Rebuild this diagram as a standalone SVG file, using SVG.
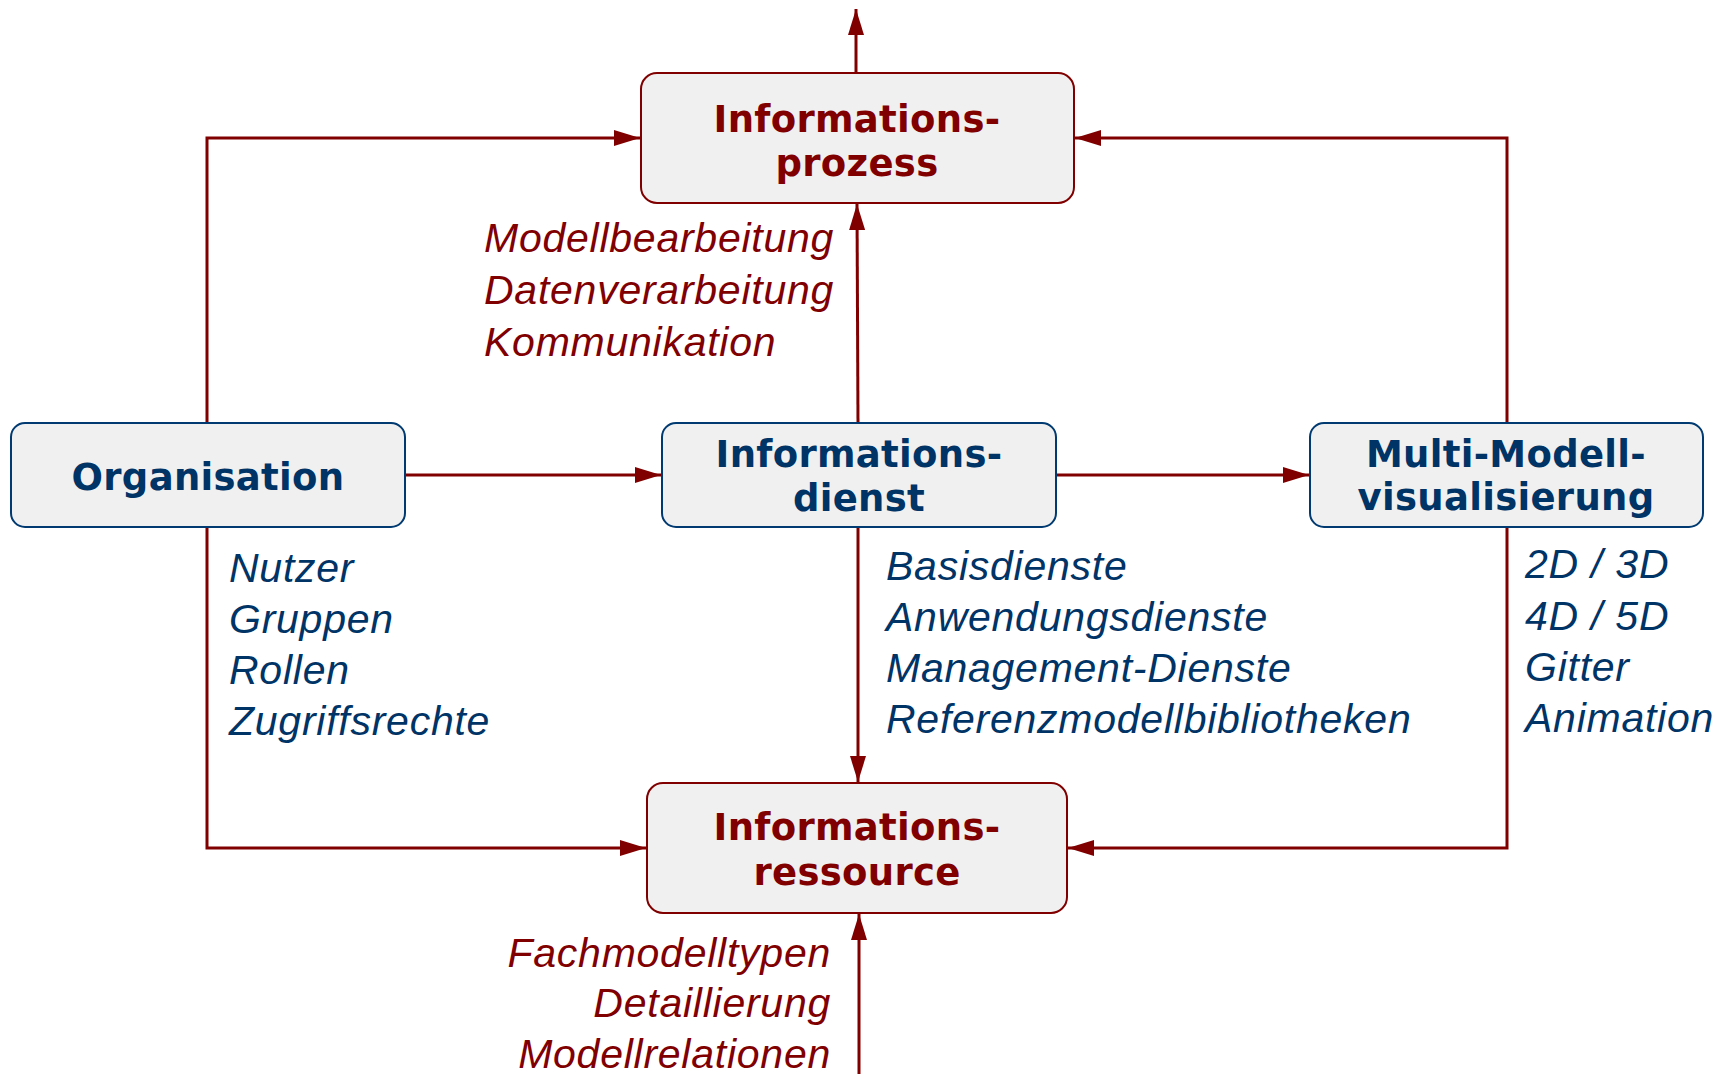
<svg xmlns="http://www.w3.org/2000/svg" width="1731" height="1074" viewBox="0 0 1731 1074">
<style>
.box{fill:#f0f0f0;stroke-width:2}
.red{stroke:#800000}
.blue{stroke:#003a70}
.bt{font-family:"DejaVu Sans",Verdana,sans-serif;font-weight:bold;font-size:37px;text-anchor:middle;letter-spacing:0.3px}
.it{font-family:"Liberation Sans",Arial,sans-serif;font-style:italic;font-size:41px;letter-spacing:0.75px}
.tr{fill:#800000}
.tb{fill:#003366}
.c{fill:none;stroke:#800000;stroke-width:3;marker-end:url(#ah)}
</style>
<defs>
<marker id="ah" markerUnits="userSpaceOnUse" markerWidth="27" markerHeight="16" refX="26" refY="8" orient="auto">
<path d="M0,0 L26,8 L0,16 z" fill="#800000"/>
</marker>
</defs>
<g id="connectors">
<path class="c" d="M856,73 L856,9"/>
<path class="c" d="M207,423 L207,138 L640,138"/>
<path class="c" d="M1507,423 L1507,138 L1075,138"/>
<path class="c" d="M858,423 L857,204"/>
<path class="c" d="M405,475 L661,475"/>
<path class="c" d="M1056,475 L1309,475"/>
<path class="c" d="M858,527 L858,782"/>
<path class="c" d="M207,527 L207,848 L646,848"/>
<path class="c" d="M1507,527 L1507,848 L1068,848"/>
<path class="c" d="M859,1074 L859,914"/>
</g>
<g id="prozess">
<rect class="box red" x="641" y="73" width="433" height="130" rx="16"/>
<text class="bt tr" x="857" y="132">Informations-</text>
<text class="bt tr" x="857" y="176">prozess</text>
</g>
<g id="organisation">
<rect class="box blue" x="11" y="423" width="394" height="104" rx="14"/>
<text class="bt tb" x="208" y="490">Organisation</text>
</g>
<g id="dienst">
<rect class="box blue" x="662" y="423" width="394" height="104" rx="14"/>
<text class="bt tb" x="859" y="467">Informations-</text>
<text class="bt tb" x="859" y="511">dienst</text>
</g>
<g id="visualisierung">
<rect class="box blue" x="1310" y="423" width="393" height="104" rx="14"/>
<text class="bt tb" x="1506" y="467">Multi-Modell-</text>
<text class="bt tb" x="1506" y="510">visualisierung</text>
</g>
<g id="ressource">
<rect class="box red" x="647" y="783" width="420" height="130" rx="16"/>
<text class="bt tr" x="857" y="840">Informations-</text>
<text class="bt tr" x="857" y="885">ressource</text>
</g>
<g id="labels">
<text class="it tr" x="484" y="252">Modellbearbeitung</text>
<text class="it tr" x="484" y="304">Datenverarbeitung</text>
<text class="it tr" x="484" y="356">Kommunikation</text>
<text class="it tb" x="229" y="582">Nutzer</text>
<text class="it tb" x="229" y="633">Gruppen</text>
<text class="it tb" x="229" y="684">Rollen</text>
<text class="it tb" x="229" y="735">Zugriffsrechte</text>
<text class="it tb" x="886" y="580">Basisdienste</text>
<text class="it tb" x="886" y="631">Anwendungsdienste</text>
<text class="it tb" x="886" y="682">Management-Dienste</text>
<text class="it tb" x="886" y="733">Referenzmodellbibliotheken</text>
<text class="it tb" x="1525" y="578">2D / 3D</text>
<text class="it tb" x="1525" y="630">4D / 5D</text>
<text class="it tb" x="1525" y="681">Gitter</text>
<text class="it tb" x="1525" y="732">Animation</text>
<text class="it tr" x="831" y="967" text-anchor="end">Fachmodelltypen</text>
<text class="it tr" x="831" y="1017" text-anchor="end">Detaillierung</text>
<text class="it tr" x="831" y="1068" text-anchor="end">Modellrelationen</text>
</g>
</svg>
